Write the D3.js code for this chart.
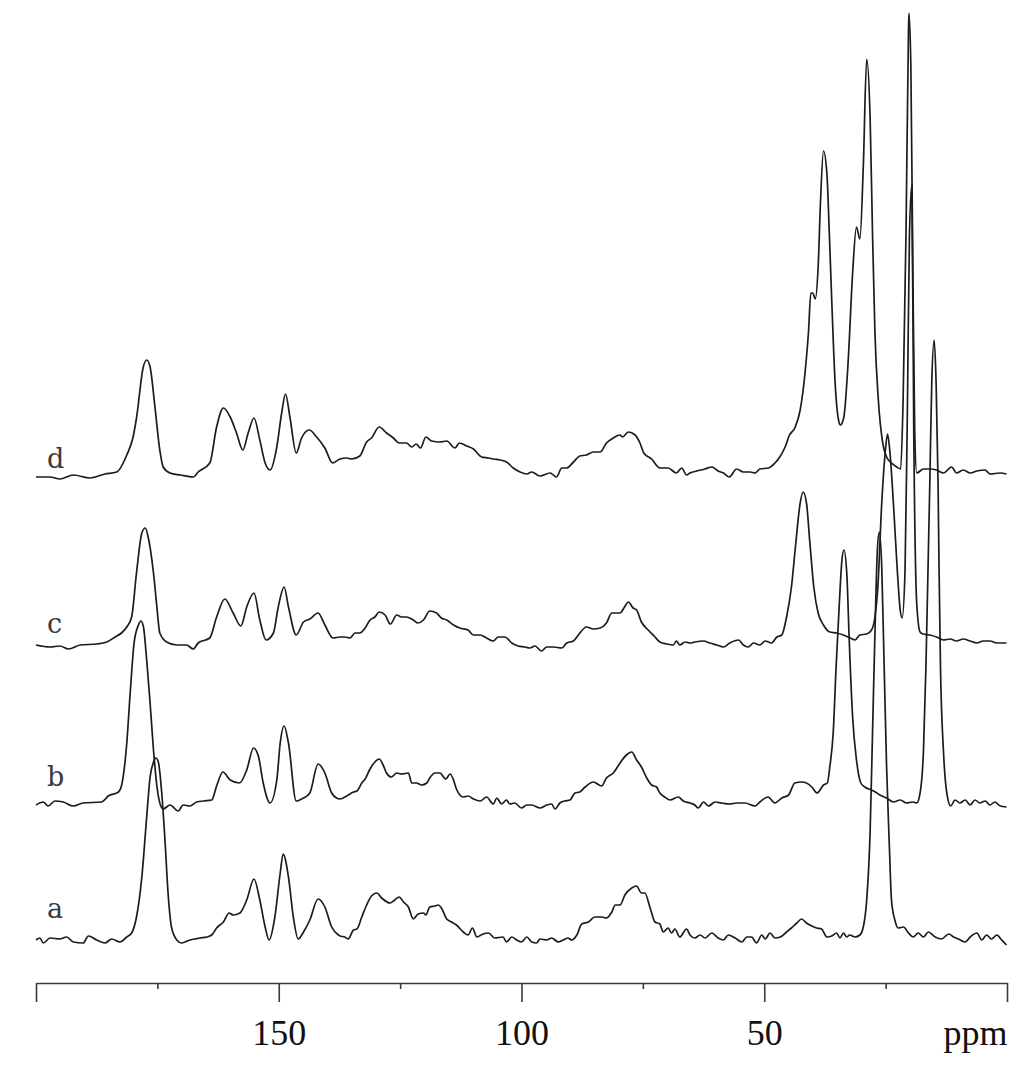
<!DOCTYPE html>
<html>
<head>
<meta charset="utf-8">
<script src="https://cdn.jsdelivr.net/npm/d3@7"></script>
<style>
  html, body { margin: 0; padding: 0; background: #ffffff; }
  svg { display: block; }
</style>
</head>
<body>
<svg id="chart" width="1024" height="1068"></svg>
<script>
// ---------------- DATA (chemical shift in ppm, intensity in arbitrary units) ----------------
const traceNames = ["a", "b", "c", "d"];
// vertical stacking offset of each trace (intensity units)
const traceOffsets = [0, 137, 295, 463];

const traceA = [[200,0],[199.2,2],[198.5,-3],[197.1,2],[195.1,1],[193.7,3],[192.3,-2],[190.3,-3],[189.2,4],[187.5,0],[185.8,-3],[184.4,1],[182.7,-2],[181.3,3],[180.3,7],[179.3,23],[178.2,63],[177.2,123],[176.5,163],[175.8,178],[175.3,182],[174.8,178],[174.1,147],[173.4,97],[172.8,47],[172.1,13],[171.0,0],[170.0,-3],[168.3,0],[166.2,2],[164.8,3],[163.8,5],[162.8,12],[161.4,18],[160.2,27],[159.4,25],[158.0,27],[156.6,40],[155.1,61],[153.9,40],[152.8,13],[152.0,0],[150.8,23],[149.7,67],[149.1,86],[148.0,63],[147.0,23],[146.0,1],[144.9,8],[143.6,20],[141.9,41],[140.5,33],[139.1,13],[137.7,5],
[137.4,4],[136.4,3],[135.7,1],[134.6,10],[133.9,11],[132.9,23],[131.9,35],[130.9,44],[129.8,47],[128.8,42],[127.1,37],[126.1,40],[125.2,43],[124.3,38],[123.3,33],[122.3,21],[121.3,26],[120.2,27],[119.7,25],[118.9,33],[117.8,34],[117.1,35],[116.5,32],[115.4,21],[114.4,18],[113.4,15],[112.0,8],[111.0,5],[110.1,12],[109.2,3],[107.9,6],[106.8,7],[105.5,2],[103.8,3],[103.1,-2],[102.0,3],[101.0,0],[100.0,-2],[98.9,3],[97.9,-2],[96.9,-3],[96.2,1],[94.8,0],[93.8,2],[92.4,-2],[91.4,0],[90.4,2],[89.7,0],[88.6,5],[87.6,16],[86.2,18],[84.9,23],[83.5,23],[82.5,22],[81.4,28],[80.7,35],[79.7,35],[78.7,45],[77.3,52],[76.3,54],[75.3,47],[74.6,47],[73.5,32],[72.5,18],[71.5,16],[70.8,8],[69.8,12],[69.1,7],[68.4,11],[67.4,3],[66.0,11],
[65.3,5],[64.3,2],[63.2,5],[62.2,2],[60.8,7],[59.5,2],[58.4,0],[57.4,5],[56.0,2],[54.6,-2],[53.6,3],[52.6,3],[51.6,-3],[50.5,5],[49.8,1],[48.8,7],[47.8,2],[46.7,3],[45.4,8],[44.4,12],[43.3,17],[42.3,21],[41.3,17],[40.2,14],[39.2,12],[38.2,11],[37.1,3],[36.1,4],[35.1,7],[34.4,2],[33.7,7],[33.0,3],[32.4,5],[31.3,3],[30.3,5],[29.6,13],[28.9,40],[28.2,107],[27.7,207],[27.2,307],[26.7,390],[26.3,408],[25.8,373],[25.3,273],[24.8,173],[24.2,90],[23.8,40],[23.1,20],[22.4,12],[21.3,13],[20.3,7],[19.3,3],[18.3,7],[17.2,3],[16.2,8],[14.8,3],[13.5,1],[12.0,6],[11.0,3],[10.0,1],[8.6,-2],[7.6,3],[6.2,7],[5.2,0],[4.2,5],[3.2,1],[2.1,5],[1.1,0],[0.1,-5]];

const traceB = [[200,-2],[198.5,1],[197.5,-3],[196.1,2],[194.4,1],[192.3,-3],[190.3,0],[186.5,1],[185.1,7],[183.0,11],[182.4,17],[181.3,60],[180.6,110],[179.8,160],[178.9,178],[178.4,182],[177.9,177],[177.2,143],[176.5,100],[175.8,53],[175.1,17],[174.3,-3],[173.8,-6],[172.4,-2],[170.7,-8],[169.7,-2],[168.3,-3],[166.9,1],[165.5,2],[163.8,3],[162.8,17],[161.5,31],[160.0,23],[158.1,20],[156.6,33],[155.2,55],[154.2,47],[153.2,20],[151.8,0],[150.4,23],[149.7,60],[148.9,77],[148.0,60],[146.4,2],[144.9,5],[143.6,10],[141.9,39],[140.5,30],[139.1,10],[138.1,5],
[137.4,4],[136.0,7],[134.6,11],[133.9,12],[132.9,20],[132.2,24],[131.2,34],[130.2,41],[129.3,44],[128.5,38],[127.8,30],[126.8,26],[125.7,30],[124.7,29],[123.3,30],[122.6,20],[121.6,20],[120.6,18],[119.5,20],[118.9,25],[117.8,30],[116.8,30],[115.6,24],[114.7,29],[114.0,23],[113.4,14],[112.0,6],[111.0,7],[109.9,4],[108.5,2],[107.2,6],[105.8,-1],[105.1,5],[104.1,-1],[103.1,3],[102.4,-1],[101.4,0],[100.0,-5],[98.9,-2],[97.9,-2],[96.2,-5],[94.8,-2],[93.8,-1],[93.1,-6],[92.1,0],[91.1,2],[90.0,3],[89.0,10],[88.0,11],[86.9,16],[85.2,21],[83.5,17],[82.5,25],[81.1,30],[79.7,40],[78.4,48],[77.3,51],[76.3,43],[75.3,36],[74.2,25],[73.2,18],[72.2,16],[71.5,10],[70.5,6],[69.4,3],[67.7,6],[66.7,2],
[65.3,0],[64.3,-2],[63.6,-5],[62.5,1],[61.5,-3],[60.1,1],[58.8,0],[57.1,-1],[55.7,0],[54.0,0],[51.9,-3],[50.9,1],[49.2,6],[47.8,0],[46.4,5],[45.0,8],[43.7,20],[42.3,21],[41.3,20],[40.2,16],[39.1,10],[37.8,18],[37.0,20],[36.5,36],[35.8,70],[35.2,136],[34.5,203],[34.0,243],[33.6,253],[33.0,230],[32.5,163],[31.8,86],[31.0,43],[30.1,20],[29.3,16],[27.9,13],[26.8,10],[26.2,8],[24.8,5],[23.4,1],[22.0,3],[20.7,0],[19.4,1],[18.6,0],[17.9,10],[17.2,53],[16.7,136],[16.2,250],[15.9,320],[15.5,420],[15.0,463],[14.6,420],[14.2,320],[14.0,236],[13.7,136],[13.1,53],[12.4,10],[11.6,-3],[10.7,3],[9.7,0],[8.6,3],[7.6,-2],[6.6,3],[5.6,0],[4.5,2],[3.5,-2],[2.5,1],[1.4,-3],[0.1,-4]];

const traceC = [[200,0],[197.1,-2],[195.1,-1],[193.3,-4],[190.9,0],[187.5,1],[185.4,3],[183.7,8],[182.4,12],[181.3,18],[180.3,28],[179.3,72],[178.2,112],[177.5,117],[176.9,108],[175.8,72],[175.1,38],[174.5,12],[173.1,3],[171.0,0],[169.0,0],[167.6,-4],[166.6,2],[164.2,7],[162.8,28],[161.1,46],[159.4,32],[157.8,19],[156.6,38],[155.1,52],[153.9,25],[152.6,5],[151.1,12],[150.1,38],[148.9,58],[148.0,38],[146.4,10],[144.9,23],[143.6,26],[141.9,32],[140.5,20],[138.8,7],
[137.4,8],[136.4,8],[135.3,7],[134.3,12],[133.3,12],[132.2,17],[131.2,25],[130.2,28],[129.3,33],[128.1,30],[127.0,21],[125.7,30],[124.7,28],[123.7,28],[122.3,25],[121.3,22],[120.2,25],[118.9,34],[117.5,32],[116.5,27],[115.4,25],[114.0,20],[112.7,17],[111.0,15],[109.9,10],[108.5,10],[107.2,7],[105.8,4],[104.8,8],[103.4,8],[102.0,2],[100.7,-1],[99.3,-2],[98.3,-3],[97.2,-1],[95.9,-6],[94.8,-2],[93.5,-2],[91.7,-3],[90.7,2],[89.3,4],[88.3,10],[86.6,18],[85.2,16],[83.8,17],[82.5,22],[81.4,32],[79.7,32],[78.9,37],[78.0,43],[77.0,37],[76.3,35],[75.3,23],[73.9,15],[72.5,8],[71.5,3],[70.1,1],[68.7,0],[68.1,4],[67.4,0],[66.3,3],
[65.3,2],[64.3,3],[62.5,4],[61.2,2],[59.8,0],[58.4,-2],[57.1,2],[55.3,5],[54.3,0],[53.3,-2],[52.2,2],[50.9,0],[49.8,4],[48.5,2],[47.4,8],[46.4,10],[45.4,28],[44.4,58],[43.5,102],[42.6,142],[42.0,153],[41.3,142],[40.6,102],[39.8,58],[38.9,32],[37.8,20],[36.5,13],[35.1,12],[33.7,10],[32.3,7],[31.3,5],[30.3,10],[28.9,11],[27.9,15],[27.2,28],[26.6,58],[25.8,142],[25.1,192],[24.6,211],[24.1,192],[23.4,142],[22.6,75],[22.0,35],[21.6,27],[21.0,75],[20.5,242],[20.1,408],[19.6,460],[19.2,208],[18.6,42],[17.9,13],[17.3,11],[15.9,10],[14.5,8],[13.1,5],[11.7,6],[10.4,4],[9.0,6],[7.6,4],[6.2,2],[4.9,4],[3.5,4],[2.1,2],[0.1,2]];

const traceD = [[200,0],[197.1,0],[195.1,-2],[192.3,2],[188.9,-1],[185.8,3],[183.4,5],[181.3,22],[180.0,40],[179.3,59],[177.9,110],[177.2,117],[176.5,110],[175.5,70],[174.5,27],[173.8,10],[172.4,4],[170.3,2],[167.6,0],[166.6,5],[164.2,14],[162.8,50],[161.4,69],[160.0,60],[158.7,44],[157.4,27],[156.3,44],[155.1,59],[153.9,37],[152.8,14],[151.8,7],[150.4,30],[149.4,64],[148.6,83],[147.7,60],[146.4,24],[145.3,39],[143.7,47],[142.2,40],[140.5,29],[138.9,14],
[137.4,18],[136.0,19],[135.0,18],[133.3,21],[131.9,35],[130.9,39],[129.3,50],[127.8,44],[126.4,39],[125.2,34],[123.7,34],[122.6,30],[121.7,33],[120.8,29],[119.7,40],[118.5,36],[116.8,35],[115.4,36],[113.7,29],[112.8,34],[111.3,31],[109.9,28],[108.2,20],[106.8,19],[105.8,18],[104.4,17],[103.1,15],[101.7,9],[100.3,5],[98.9,3],[97.9,5],[96.2,1],[94.1,4],[92.8,0],[91.7,9],[90.7,9],[89.3,15],[88.0,21],[86.6,22],[85.2,25],[83.8,25],[82.5,34],[81.1,39],[79.7,42],[79.2,40],[78.0,45],[76.6,42],[75.6,34],[74.8,24],[73.2,18],[71.5,9],[69.8,9],[68.1,4],[67.0,9],[66.0,2],
[65.3,4],[63.9,6],[62.2,8],[60.8,10],[59.5,6],[58.4,4],[57.2,0],[55.7,8],[54.3,5],[52.9,5],[51.9,4],[50.9,8],[49.1,9],[47.8,14],[46.8,20],[45.7,30],[44.8,42],[43.7,49],[42.6,67],[41.6,104],[40.9,144],[40.4,184],[40.0,184],[39.5,178],[38.9,210],[38.4,277],[37.8,326],[37.1,304],[36.6,244],[36.1,177],[35.4,94],[34.7,57],[34.3,52],[33.6,60],[32.7,117],[31.8,204],[31.0,250],[30.3,238],[29.6,310],[28.9,418],[28.2,360],[27.7,244],[27.2,144],[26.5,77],[25.6,34],[24.8,20],[23.8,14],[22.7,10],[21.9,8],[21.4,77],[20.8,244],[20.3,444],[20.2,464],[19.8,410],[19.4,210],[19.0,44],[18.6,4],[17.2,8],[15.9,8],[14.5,7],[13.1,4],[11.4,10],[10.4,4],[9.0,7],[7.6,4],[6.2,6],[4.5,7],[3.5,3],[1.4,4],[0.1,3]];

const traces = [traceA, traceB, traceC, traceD];

// axis ticks
const majorTicks = [200, 150, 100, 50, 0];
const minorTicks = [175, 125, 75, 25];
const tickLabels = {200: "", 150: "150", 100: "100", 50: "50", 0: "ppm"};

// ---------------- LAYOUT ----------------
const svg = d3.select("#chart");
const x = d3.scaleLinear().domain([200, 0]).range([36, 1007]);
const y = d3.scaleLinear().domain([0, 930]).range([940, 10]);
const axisY = 983;
const labelLift = [22, 17, 12, 9];

const line = d3.line()
  .x(d => x(d[0]))
  .y(d => d[1])
  .curve(d3.curveMonotoneX);

traces.forEach((tr, i) => {
  const off = traceOffsets[i];
  const pts = tr.map(p => [p[0], y(off + p[1])]);
  svg.append("path")
    .attr("d", line(pts))
    .attr("fill", "none")
    .attr("stroke", "#1c1c1c")
    .attr("stroke-width", 1.7)
    .attr("stroke-linejoin", "round");
  svg.append("text")
    .attr("x", 47)
    .attr("y", y(off) - labelLift[i])
    .attr("font-family", "'DejaVu Serif', serif")
    .attr("font-size", 27)
    .attr("fill", "#3a3a3a")
    .text(traceNames[i]);
});

// axis
const gAxis = svg.append("g").attr("transform", `translate(0,${axisY})`);
gAxis.call(d3.axisBottom(x).tickValues(majorTicks).tickSize(19).tickSizeOuter(0)
  .tickFormat(d => tickLabels[d]));
const gMinor = svg.append("g").attr("transform", `translate(0,${axisY})`);
gMinor.call(d3.axisBottom(x).tickValues(minorTicks).tickSize(6).tickFormat(""));
gMinor.select(".domain").remove();

svg.selectAll(".domain, .tick line")
  .attr("stroke", "#3a3a3a")
  .attr("stroke-width", 1.6);
gAxis.selectAll(".tick text")
  .attr("y", 62)
  .attr("dy", 0)
  .attr("font-family", "'Times New Roman', 'Liberation Serif', serif")
  .attr("font-size", 36)
  .attr("fill", "#111")
  .attr("text-anchor", d => d === 0 ? "end" : "middle");
</script>
</body>
</html>
